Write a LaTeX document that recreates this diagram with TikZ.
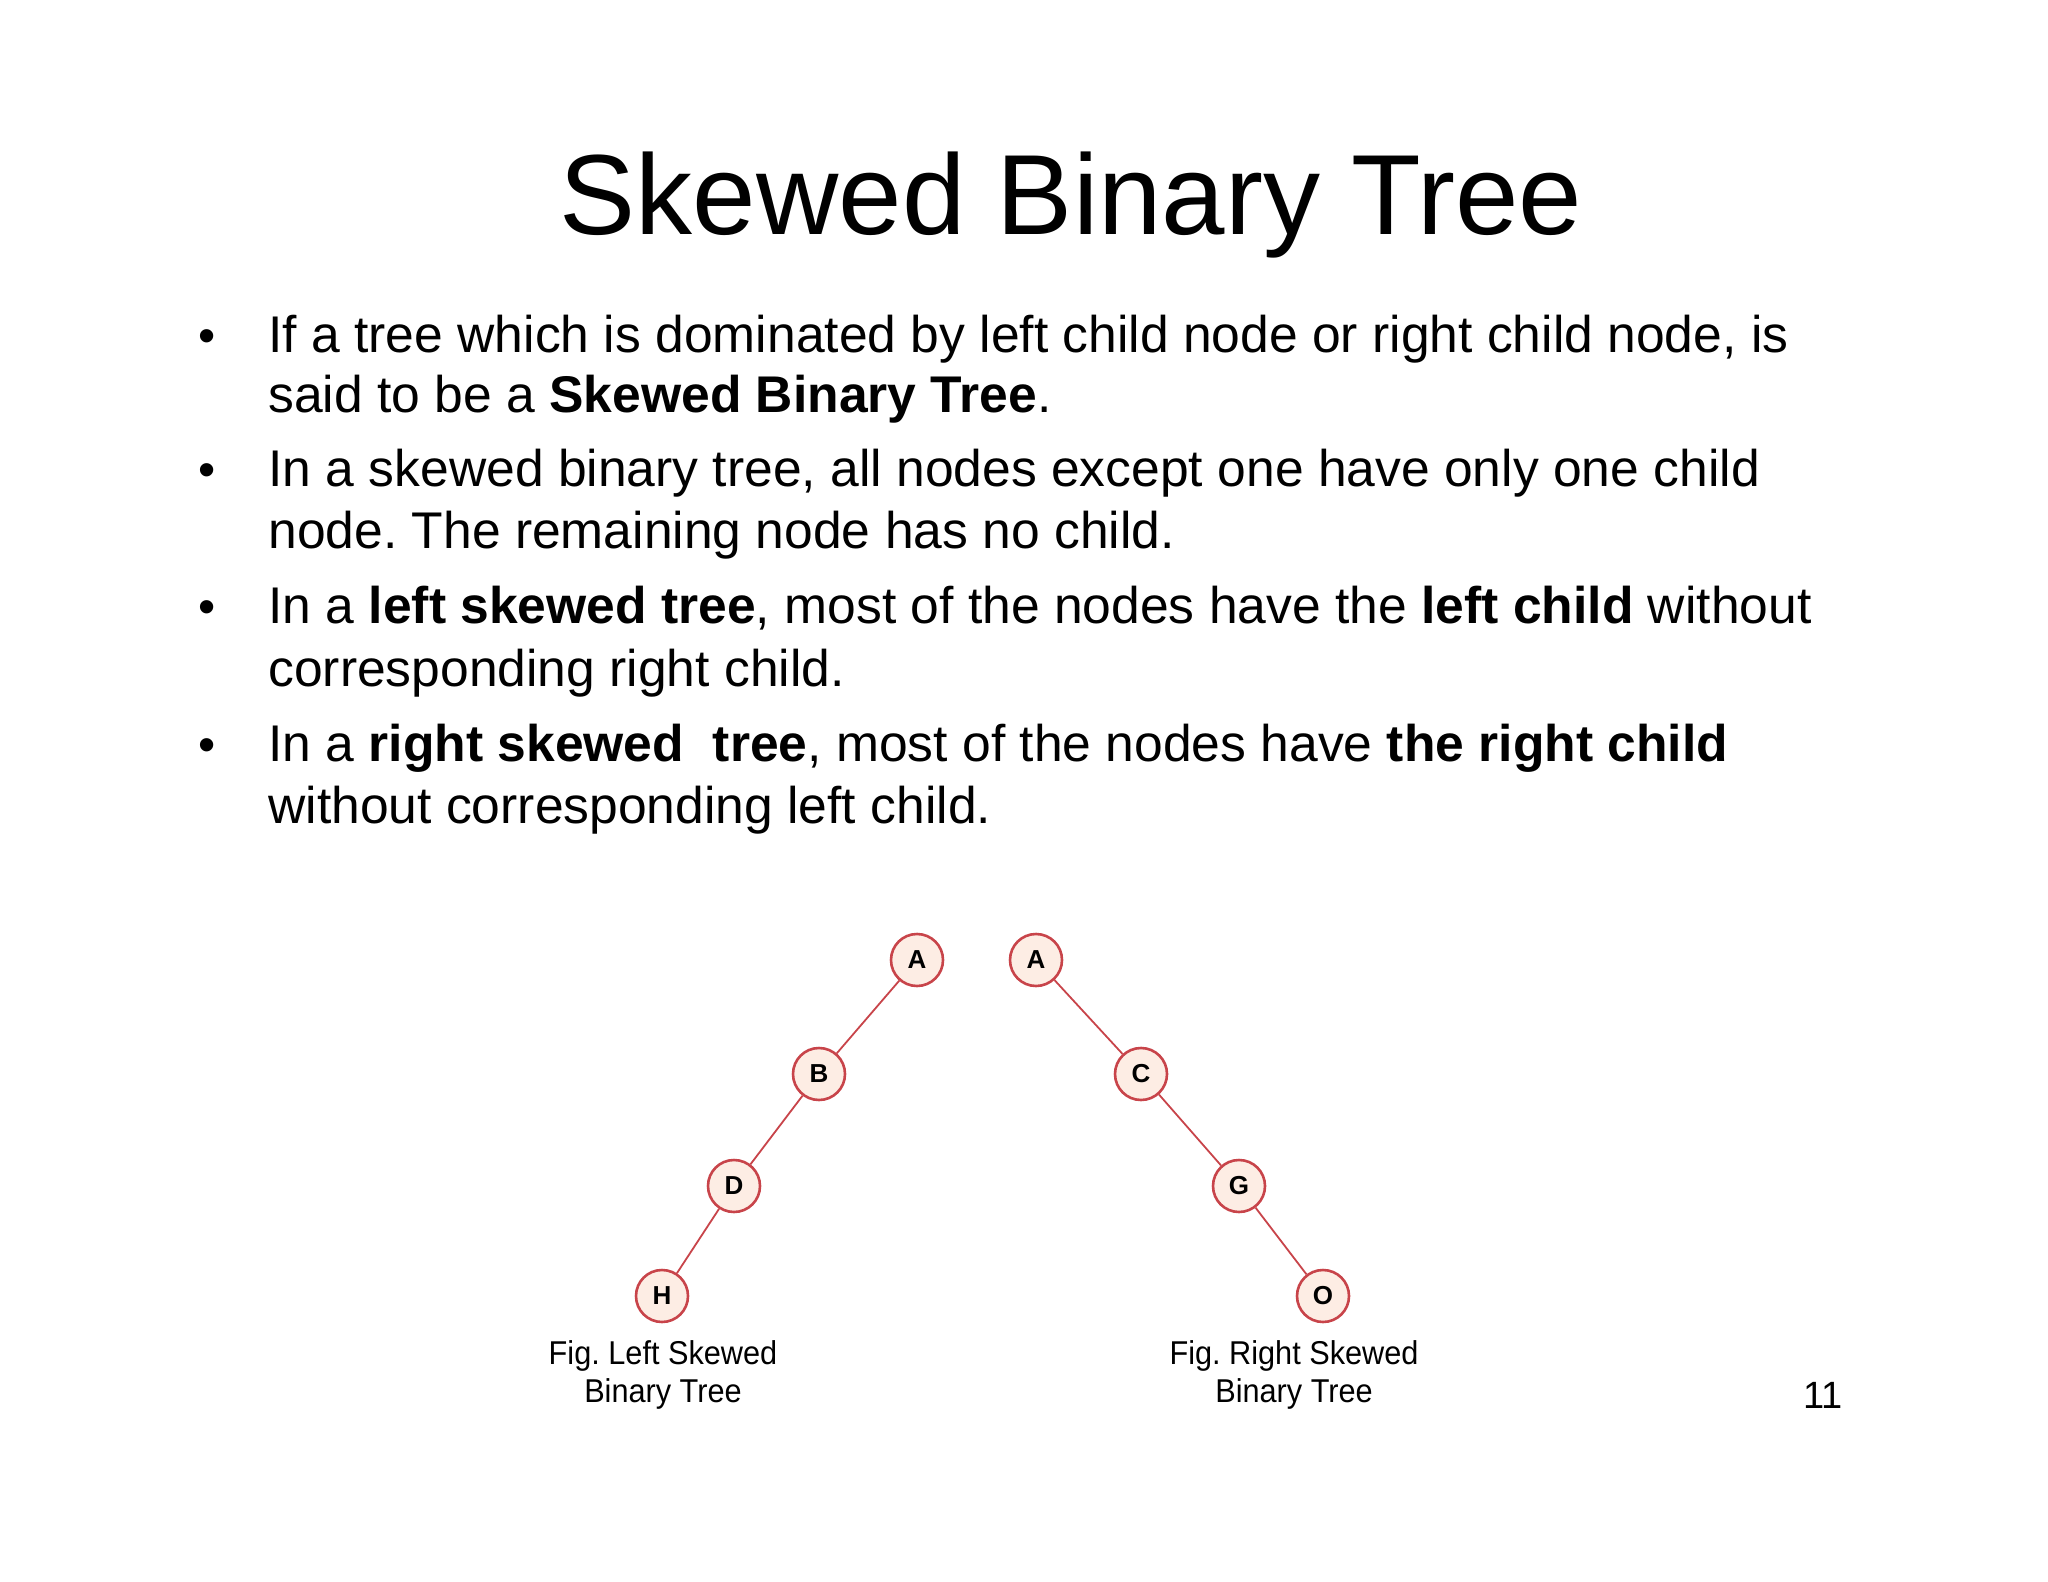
\documentclass[tikz,border=0pt]{standalone}
\usepackage{fontspec}
\setmainfont{Liberation Sans}
\frenchspacing
\definecolor{edgered}{HTML}{C8444A}
\definecolor{nodefill}{HTML}{FDEDE4}
\begin{document}
\begin{tikzpicture}[x=0.5pt,y=-0.5pt,
  tn/.style={circle,draw=edgered,line width=1.3pt,fill=nodefill,minimum size=26pt,inner sep=0pt,font=\fontsize{13}{13}\selectfont\bfseries},
  tedge/.style={draw=edgered,line width=0.9pt},
  body/.style={anchor=base west,inner sep=0pt,font=\fontsize{25.8}{25.8}\selectfont},
  bul/.style={anchor=base west,inner sep=0pt,font=\fontsize{24.5}{24.5}\selectfont},
  figcap/.style={align=center,inner sep=0pt,font=\fontsize{16.5}{19}\selectfont,xscale=0.93}]
\useasboundingbox (0,0) rectangle (2048,1582);
\node[anchor=base,inner sep=0pt,font=\fontsize{57}{57}\selectfont] (title) at (1071,235) {Skewed Binary Tree};
\foreach \y in {353,487,624,761} \node[bul] at (198,\y) {•};
\node[body] (l1) at (268,353) {If a tree which is dominated by left child node or right child node, is};
\node[body] (l2) at (268,413) {said to be a \textbf{Skewed Binary Tree}.};
\node[body] (l3) at (268,487) {In a skewed binary tree, all nodes except one have only one child};
\node[body] (l4) at (268,549) {node. The remaining node has no child.};
\node[body] (l5) at (268,624) {In a \textbf{left skewed tree}, most of the nodes have the \textbf{left child} without};
\node[body] (l6) at (268,686) {corresponding right child.};
\node[body] (l7) at (268,761) {In a \textbf{right skewed\ \ tree}, most of the nodes have \textbf{the right child}};
\node[body] (l8) at (268,823) {without corresponding left child.};
\node[tn] (A1) at (917,960) {A};
\node[tn] (B) at (819,1074) {B};
\node[tn] (D) at (734,1186) {D};
\node[tn] (H) at (662,1296) {H};
\node[tn] (A2) at (1036,960) {A};
\node[tn] (C) at (1141,1074) {C};
\node[tn] (G) at (1239,1186) {G};
\node[tn] (O) at (1323,1296) {O};
\draw[tedge] (A1) -- (B) (B) -- (D) (D) -- (H);
\draw[tedge] (A2) -- (C) (C) -- (G) (G) -- (O);
\node[figcap] (c1) at (663,1375) {Fig. Left Skewed\\Binary Tree};
\node[figcap] (c2) at (1294,1375) {Fig. Right Skewed\\Binary Tree};
\node[anchor=base,inner sep=0pt,font=\fontsize{19}{19}\selectfont] (pg) at (1823,1408) {11};
\end{tikzpicture}
\end{document}
